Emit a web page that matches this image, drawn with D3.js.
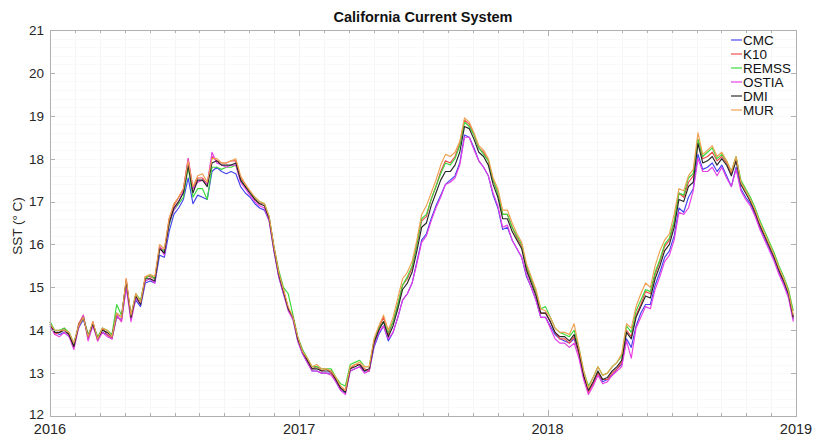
<!DOCTYPE html>
<html>
<head>
<meta charset="utf-8">
<script src="https://cdn.jsdelivr.net/npm/d3@7"></script>
<style>
  html, body { margin: 0; padding: 0; background: #fff; }
  svg { display: block; font-family: "Liberation Sans", Arial, Helvetica, sans-serif; }
</style>
</head>
<body>
<svg id="chart" width="814" height="437"></svg>
<script>
// Weekly SST samples (°C), starting 1 Jan 2016
const startDate = new Date(2016, 0, 1);
const stepDays = 7;

const seriesNames = ["CMC", "K10", "REMSS", "OSTIA", "DMI", "MUR"];
const seriesColors = ["#4444f0", "#f04848", "#3ad83a", "#e63ce6", "#262626", "#eea050"];

const cmc = [
  14.1,13.95,13.9,13.95,13.85,13.7,14.05,14.25,13.9,14.1,13.85,13.95,13.9,13.8,14.3,14.25,15.0,14.35,14.7,14.55,15.1,15.15,15.1,
  15.75,15.7,16.3,16.7,16.85,17.05,17.55,16.95,17.15,17.1,17.05,17.7,17.8,17.7,17.65,17.7,17.65,17.35,17.2,17.1,16.95,16.85,16.8,
  16.55,15.85,15.25,14.85,14.5,14.25,13.75,13.45,13.25,13.05,13.05,13.0,13.0,13.0,12.8,12.6,12.55,13.05,13.1,13.15,13.05,13.05,13.6,13.9,14.1,
  13.75,13.95,14.3,14.7,14.85,15.1,15.6,16.1,16.25,16.6,16.9,17.15,17.4,17.5,17.6,17.9,18.55,18.5,18.25,17.95,17.8,17.6,
  17.15,16.85,16.35,16.4,16.1,15.9,15.7,15.25,15.0,14.7,14.3,14.3,
  14.1,13.9,13.8,13.75,13.7,13.8,13.45,12.9,12.6,12.75,13.0,12.8,12.85,12.95,13.1,13.2,
  13.8,13.6,14.1,14.4,14.6,14.6,15.05,15.35,15.7,15.85,16.2,16.85,16.75,17.1,17.3,18.1,17.75,17.8,17.9,17.7,
  17.85,17.6,17.35,17.8,17.3,17.1,16.95,16.7,16.4,16.15,15.9,15.65,15.35,15.1,14.8,14.25
];
const k10 = [
  14.2,13.9,13.95,14.05,13.9,13.6,14.15,14.35,13.8,14.2,13.75,14.05,13.9,13.8,14.35,14.2,15.2,14.25,14.85,14.65,15.25,15.25,15.2,
  15.95,15.85,16.6,16.9,17.1,17.3,18.0,17.3,17.55,17.55,17.4,18.05,17.95,17.9,17.9,17.95,17.95,17.55,17.4,17.2,17.05,16.95,16.95,
  16.6,15.95,15.35,14.95,14.5,14.3,13.8,13.5,13.3,13.1,13.15,13.05,13.1,13.0,12.85,12.65,12.6,13.1,13.2,13.2,13.1,13.05,13.75,14.05,14.3,
  13.9,14.2,14.6,15.05,15.2,15.45,16.0,16.55,16.65,17.05,17.35,17.7,17.95,17.9,18.05,18.35,18.9,18.8,18.55,18.25,18.15,17.95,
  17.5,17.2,16.7,16.7,16.4,16.15,15.95,15.45,15.15,14.85,14.4,14.4,
  14.2,13.95,13.8,13.8,13.7,13.85,13.45,12.9,12.55,12.75,13.0,12.85,12.85,13.0,13.1,13.25,
  14.0,13.85,14.35,14.6,14.9,14.85,15.3,15.6,15.95,16.1,16.5,17.2,17.1,17.45,17.6,18.45,18.0,18.05,18.15,17.95,
  18.05,17.9,17.65,18.0,17.45,17.25,17.05,16.75,16.45,16.2,15.95,15.7,15.4,15.15,14.9,14.3
];
const remss = [
  14.2,14.0,14.0,14.05,13.95,13.7,14.1,14.3,13.9,14.15,13.85,14.05,14.0,13.9,14.6,14.35,15.1,14.35,14.85,14.7,15.2,15.3,15.2,
  15.9,15.85,16.45,16.8,16.95,17.1,17.8,17.1,17.3,17.3,17.05,17.8,17.8,17.75,17.8,17.8,17.85,17.5,17.35,17.2,17.1,17.0,16.95,
  16.65,15.95,15.4,15.0,14.85,14.35,13.85,13.55,13.35,13.15,13.15,13.1,13.1,13.1,12.9,12.75,12.7,13.2,13.25,13.3,13.15,13.15,13.75,14.05,14.2,
  13.95,14.2,14.6,15.05,15.25,15.5,16.0,16.6,16.7,17.05,17.35,17.65,17.9,17.85,18.0,18.3,18.85,18.75,18.55,18.25,18.1,17.95,
  17.5,17.2,16.7,16.7,16.4,16.2,16.0,15.5,15.2,14.9,14.5,14.55,
  14.3,14.05,13.95,13.9,13.85,14.0,13.6,13.05,12.7,12.9,13.15,12.95,13.0,13.15,13.25,13.4,
  14.1,13.95,14.45,14.7,14.95,14.9,15.35,15.65,16.0,16.15,16.55,17.2,17.15,17.55,17.65,18.45,18.05,18.15,18.25,18.0,
  18.1,17.95,17.7,18.05,17.5,17.3,17.1,16.85,16.55,16.3,16.05,15.8,15.5,15.25,14.95,14.45
];
const ostia = [
  14.1,13.9,13.85,13.95,13.85,13.55,14.05,14.35,13.75,14.1,13.75,13.95,13.85,13.8,14.35,14.2,15.0,14.2,14.75,14.6,15.15,15.2,15.1,
  15.95,15.75,16.5,16.8,17.0,17.25,18.0,17.3,17.45,17.5,17.4,18.15,17.9,17.85,17.8,17.85,17.85,17.45,17.3,17.15,17.0,16.9,16.85,
  16.55,15.85,15.25,14.85,14.45,14.25,13.75,13.45,13.25,13.05,13.05,13.0,13.0,12.95,12.8,12.6,12.5,13.05,13.1,13.15,13.0,13.05,13.65,13.95,14.1,
  13.8,13.95,14.3,14.7,14.85,15.1,15.55,16.05,16.2,16.55,16.85,17.1,17.4,17.45,17.55,17.85,18.5,18.5,18.2,17.95,17.8,17.6,
  17.2,16.9,16.4,16.45,16.1,15.9,15.7,15.3,15.0,14.7,14.3,14.3,
  14.05,13.8,13.7,13.7,13.6,13.7,13.35,12.85,12.5,12.7,12.95,12.75,12.8,12.95,13.05,13.15,
  13.75,13.35,14.05,14.3,14.55,14.5,14.95,15.25,15.6,15.75,16.1,16.75,16.7,16.85,17.25,18.0,17.7,17.7,17.8,17.6,
  17.8,17.55,17.35,17.75,17.25,17.05,16.9,16.65,16.35,16.1,15.85,15.6,15.3,15.05,14.75,14.2
];
const dmi = [
  14.15,13.95,13.95,14.0,13.9,13.62,14.1,14.3,13.85,14.15,13.8,14.0,13.95,13.85,14.4,14.3,15.15,14.3,14.8,14.6,15.2,15.2,15.15,
  15.9,15.8,16.5,16.85,17.0,17.2,17.85,17.2,17.5,17.5,17.35,17.9,17.95,17.85,17.85,17.85,17.9,17.5,17.35,17.2,17.05,16.95,16.9,
  16.6,15.9,15.3,14.9,14.5,14.3,13.8,13.5,13.3,13.1,13.1,13.05,13.05,13.05,12.85,12.65,12.55,13.1,13.15,13.2,13.05,13.1,13.7,14.0,14.2,
  13.85,14.1,14.5,14.95,15.1,15.35,15.85,16.4,16.5,16.9,17.2,17.5,17.7,17.7,17.85,18.15,18.75,18.7,18.45,18.15,18.05,17.85,
  17.4,17.1,16.6,16.6,16.3,16.1,15.9,15.4,15.1,14.8,14.4,14.4,
  14.2,13.95,13.85,13.85,13.75,13.9,13.5,12.95,12.6,12.8,13.05,12.85,12.9,13.05,13.15,13.3,
  13.95,13.8,14.3,14.55,14.8,14.75,15.2,15.5,15.85,16.0,16.4,17.05,17.0,17.35,17.45,18.35,17.9,17.95,18.05,17.85,
  18.0,17.85,17.6,17.95,17.4,17.2,17.0,16.75,16.45,16.2,15.95,15.7,15.4,15.15,14.85,14.3
];
const mur = [
  14.15,14.0,14.0,14.0,13.95,13.7,14.1,14.3,13.85,14.2,13.8,14.05,14.0,13.85,14.4,14.3,15.2,14.35,14.85,14.65,15.25,15.3,15.25,
  16.0,15.9,16.6,16.95,17.1,17.3,17.95,17.35,17.6,17.65,17.45,18.0,18.0,17.9,17.9,17.95,18.0,17.6,17.4,17.25,17.1,17.0,16.95,
  16.65,15.95,15.35,14.95,14.55,14.3,13.85,13.5,13.35,13.15,13.2,13.1,13.1,13.05,12.9,12.7,12.6,13.15,13.2,13.25,13.15,13.15,13.8,14.1,14.35,
  14.0,14.3,14.75,15.2,15.35,15.6,16.1,16.7,16.9,17.2,17.5,17.85,18.1,18.05,18.15,18.4,18.95,18.85,18.6,18.3,18.2,18.0,
  17.55,17.3,16.8,16.8,16.5,16.25,16.05,15.55,15.25,14.95,14.5,14.45,
  14.3,14.05,13.95,13.95,13.9,14.15,13.6,13.05,12.65,12.9,13.15,12.95,13.0,13.15,13.25,13.45,
  14.15,14.05,14.55,14.85,15.1,15.0,15.5,15.85,16.1,16.25,16.7,17.3,17.25,17.6,17.75,18.6,18.1,18.2,18.3,18.05,
  18.15,17.95,17.7,18.05,17.45,17.25,17.05,16.8,16.5,16.25,16.0,15.75,15.45,15.2,14.9,14.35
];

const seriesValues = [cmc, k10, remss, ostia, dmi, mur];
const yTicks = [12, 13, 14, 15, 16, 17, 18, 19, 20, 21];
const yearTicks = [2016, 2017, 2018, 2019];

const titleText = "California Current System";
const yLabelText = "SST (° C)";

// ---- layout ----
const svg = d3.select("#chart");
const plot = { left: 50, right: 796, top: 30, bottom: 416 };

const x = d3.scaleTime()
  .domain([new Date(2016, 0, 1), new Date(2019, 0, 1)])
  .range([plot.left, plot.right]);
const y = d3.scaleLinear().domain([12, 21]).range([plot.bottom, plot.top]);

const dates = cmc.map((_, i) => d3.timeDay.offset(startDate, i * stepDays));

// minor x positions: tenths of each year
const minorDates = [];
for (let yr = 2016; yr < 2019; yr++) {
  const a = new Date(yr, 0, 1), b = new Date(yr + 1, 0, 1);
  for (let k = 1; k < 10; k++) minorDates.push(new Date(+a + (b - a) * k / 10));
}
const majorDates = yearTicks.map(yr => new Date(yr, 0, 1));

// very faint grid
const grid = svg.append("g");
grid.selectAll("line.gx")
  .data(minorDates.concat(majorDates))
  .join("line")
  .attr("x1", d => Math.round(x(d)) + 0.5).attr("x2", d => Math.round(x(d)) + 0.5)
  .attr("y1", plot.top).attr("y2", plot.bottom)
  .attr("stroke", "#f6f6f6").attr("stroke-width", 1);
grid.selectAll("line.gy")
  .data(d3.range(12.2, 21, 0.2))
  .join("line")
  .attr("x1", plot.left).attr("x2", plot.right)
  .attr("y1", d => Math.round(y(d)) + 0.5).attr("y2", d => Math.round(y(d)) + 0.5)
  .attr("stroke", "#f9f9f9").attr("stroke-width", 1);

// series lines
const line = d3.line()
  .x((d, i) => x(dates[i]))
  .y(d => y(d));

svg.append("g")
  .selectAll("path")
  .data(seriesValues)
  .join("path")
  .attr("d", d => line(d))
  .attr("fill", "none")
  .attr("stroke", (d, i) => seriesColors[i])
  .attr("stroke-width", 1.15)
  .attr("stroke-linejoin", "round");

// axes box
const axisColor = "#b0b0b0";
svg.append("rect")
  .attr("x", plot.left + 0.5).attr("y", plot.top + 0.5)
  .attr("width", plot.right - plot.left).attr("height", plot.bottom - plot.top)
  .attr("fill", "none").attr("stroke", axisColor).attr("stroke-width", 1);

// inward ticks
const ticks = svg.append("g").attr("stroke", axisColor).attr("stroke-width", 1);
const xt = minorDates.map(d => ({ d, len: 3 })).concat(majorDates.map(d => ({ d, len: 6 })));
ticks.selectAll("line.bt").data(xt).join("line")
  .attr("x1", t => Math.round(x(t.d)) + 0.5).attr("x2", t => Math.round(x(t.d)) + 0.5)
  .attr("y1", plot.bottom).attr("y2", t => plot.bottom - t.len);
ticks.selectAll("line.tt").data(xt).join("line")
  .attr("x1", t => Math.round(x(t.d)) + 0.5).attr("x2", t => Math.round(x(t.d)) + 0.5)
  .attr("y1", plot.top).attr("y2", t => plot.top + t.len);
ticks.selectAll("line.lt").data(yTicks).join("line")
  .attr("x1", plot.left).attr("x2", plot.left + 5)
  .attr("y1", d => Math.round(y(d)) + 0.5).attr("y2", d => Math.round(y(d)) + 0.5);
ticks.selectAll("line.rt").data(yTicks).join("line")
  .attr("x1", plot.right).attr("x2", plot.right - 5)
  .attr("y1", d => Math.round(y(d)) + 0.5).attr("y2", d => Math.round(y(d)) + 0.5);

// tick labels
const labelColor = "#262626";
svg.append("g").selectAll("text").data(yTicks).join("text")
  .attr("x", plot.left - 6).attr("y", d => y(d) - (d === 12 ? 1.5 : 0))
  .attr("dy", "0.36em").attr("text-anchor", "end")
  .attr("font-size", "13.5px").attr("fill", labelColor)
  .text(d => d);
svg.append("g").selectAll("text").data(majorDates).join("text")
  .attr("x", d => x(d)).attr("y", 434)
  .attr("text-anchor", "middle")
  .attr("font-size", "14.5px").attr("fill", labelColor)
  .text(d => d3.timeFormat("%Y")(d));

// title and axis label
svg.append("text")
  .attr("x", (plot.left + plot.right) / 2).attr("y", 22)
  .attr("text-anchor", "middle").attr("font-weight", "bold")
  .attr("font-size", "14.5px").attr("fill", "#111")
  .text(titleText);
svg.append("text")
  .attr("transform", "translate(22,226) rotate(-90)")
  .attr("text-anchor", "middle")
  .attr("font-size", "13.5px").attr("fill", labelColor)
  .text(yLabelText);

// legend
const legend = svg.append("g");
const legendY = [40, 54, 68, 82, 96, 110];
seriesNames.forEach((name, i) => {
  legend.append("line")
    .attr("x1", 731).attr("x2", 742)
    .attr("y1", legendY[i]).attr("y2", legendY[i])
    .attr("stroke", seriesColors[i]).attr("stroke-width", 1.15);
  legend.append("text")
    .attr("x", 743).attr("y", legendY[i]).attr("dy", "0.36em")
    .attr("font-size", "13.5px").attr("fill", "#111")
    .text(name);
});
</script>
</body>
</html>
